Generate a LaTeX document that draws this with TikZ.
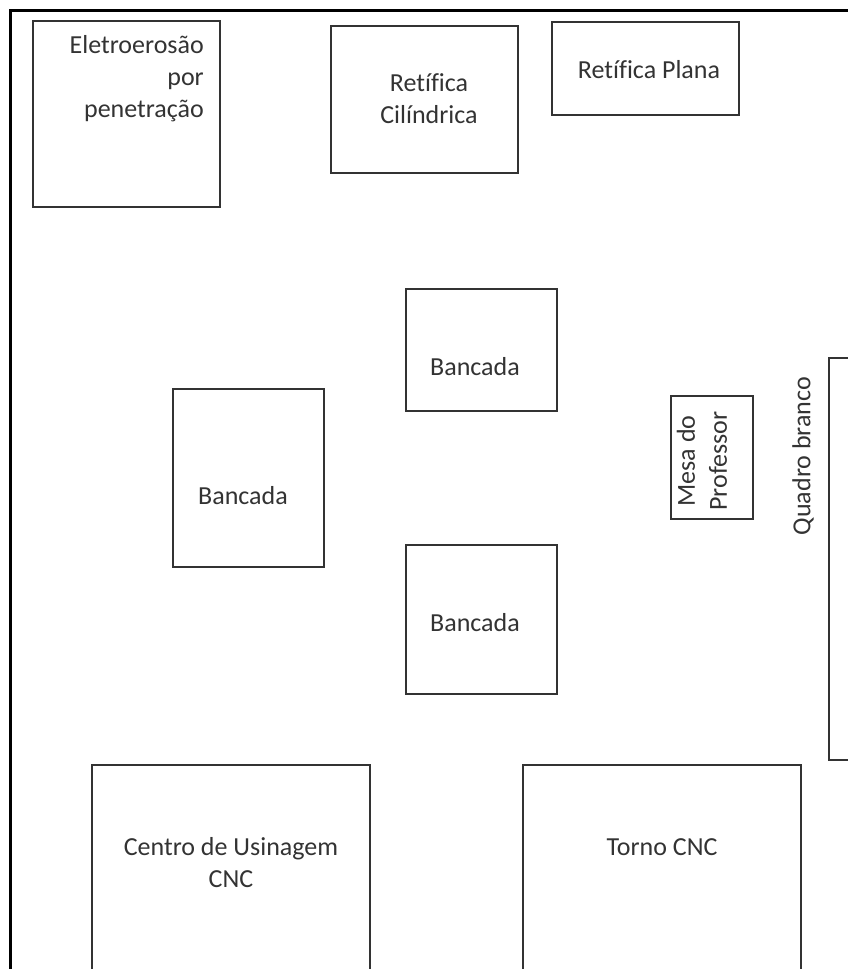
\documentclass[tikz,border=0pt]{standalone}
\usepackage{fontspec}
\setmainfont{Carlito}[Ligatures=NoCommon]
\usetikzlibrary{positioning}
\tikzset{
	machine/.style={line width=1.5pt, color=black!80},
	wall/.style={line width=3.5pt, color=black},
	label/.style={inner sep=0pt, color=black!80, font=\fontsize{26}{32}\selectfont, align=center}
}

\begin{document}
\begin{tikzpicture}[x=1pt, y=-1pt]
			%%%%% START %%%%%
			\useasboundingbox (0, 0) rectangle (848, 969);
			\clip (0, 0) rectangle (848, 969);
			
			\draw[wall] (10.5, 980) -- (10.5, 10.5) -- (860, 10.5);
			
			\draw[machine] (33, 21) rectangle (220, 207);
			\node[label, align=right, anchor=east] (eletro) at (204, 79) {Eletroerosão\\por\\penetração};
			
			\draw[machine] (331, 26) rectangle (518, 173);
			\node[label] (retcil) at (429, 99) {Retífica\\Cilíndrica};
			
			\draw[machine] (552, 22) rectangle (739, 115);
			\node[label] (retpla) at (649, 70) {Retífica Plana};
			
			\draw[machine] (406, 289) rectangle (557, 411);
			\node[label] (banc1) at (475, 367) {Bancada};
			
			\draw[machine] (173, 389) rectangle (324, 567);
			\node[label] (banc2) at (243, 496) {Bancada};
			
			\draw[machine] (406, 545) rectangle (557, 694);
			\node[label] (banc3) at (475, 623) {Bancada};
			
			\draw[machine] (671, 396) rectangle (753, 519);
			\node[label, rotate=90] (mesa) at (702, 461) {Mesa do\\Professor};
			
			\draw[machine] (829, 358) rectangle (870, 760);
			\node[label, rotate=90] (quadro) at (803, 456) {Quadro branco};
			
			\draw[machine] (92, 765) rectangle (370, 990);
			\node[label] (centro) at (231, 863) {Centro de Usinagem\\CNC};
			
			\draw[machine] (523, 765) rectangle (801, 990);
			\node[label] (torno) at (662, 847) {Torno CNC};
			
			%%%%% END %%%%%
\end{tikzpicture}
\end{document}
